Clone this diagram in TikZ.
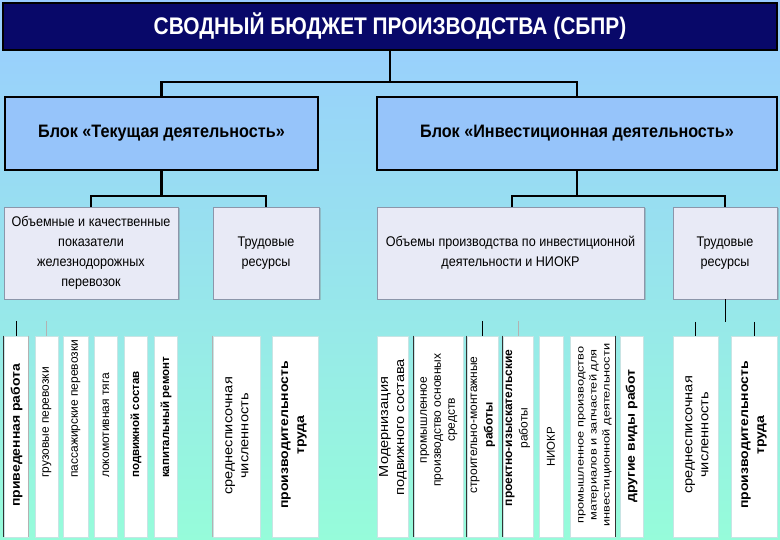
\documentclass[tikz,border=0pt]{standalone}
\usepackage{fontspec}
\setmainfont{Liberation Sans}
\newfontfamily\tfont[FakeStretch=0.87]{Liberation Sans}
\newfontfamily\hfont[FakeStretch=0.9]{Liberation Sans}
\newfontfamily\vfont[FakeStretch=1.12]{Liberation Sans}
\newfontfamily\sfont[FakeStretch=1.28]{Liberation Sans}
\usetikzlibrary{shadows}
\definecolor{bgtop}{RGB}{153,204,255}
\definecolor{bgmid}{RGB}{158,230,238}
\definecolor{bgbot}{RGB}{150,252,218}
\definecolor{navy}{RGB}{8,8,105}
\definecolor{blockfill}{RGB}{150,196,250}
\definecolor{subfill}{RGB}{232,234,246}
\definecolor{subedge}{RGB}{140,150,170}
\definecolor{leafedge}{RGB}{200,228,228}
\tikzset{
  titlebox/.style={draw=black, line width=2pt, fill=navy, text=white, inner sep=0pt,
    font=\tfont\bfseries\fontsize{24}{28}\selectfont},
  blockbox/.style={draw=black, line width=2.5pt, fill=blockfill, inner sep=0pt,
    font=\hfont\bfseries\fontsize{18}{22}\selectfont},
  subbox/.style={draw=subedge, line width=0.6pt, fill=subfill, inner sep=0pt, align=center,
    drop shadow={shadow xshift=1.5pt, shadow yshift=-1.5pt, opacity=0.35},
    font=\hfont\fontsize{14}{20}\selectfont},
  leafbox/.style={draw=leafedge, line width=0.8pt, fill=white, inner sep=0pt,
    minimum height=201pt},
  leaftext/.style={rotate=90, align=center, inner sep=0pt, text=black,
    font=\vfont\fontsize{13}{16}\selectfont},
  lefttext/.style={rotate=90, anchor=west, inner sep=0pt, text=black,
    font=\fontsize{12}{15}\selectfont},
  conn/.style={draw=black, line width=2.2pt},
  stub/.style={draw=black, line width=0.8pt},
  faintstub/.style={draw=gray!60, line width=0.8pt},
  edgeline/.style={draw=black!80, line width=0.9pt},
  faintedge/.style={draw=gray!60, line width=0.8pt}
}
\begin{document}
\begin{tikzpicture}[x=1pt,y=-1pt]
\useasboundingbox (0,0) rectangle (780,540);
\shade[top color=bgtop, middle color=bgmid, bottom color=bgbot] (0,0) rectangle (780,540);

% level 1
\node[titlebox, minimum width=774pt, minimum height=47pt] (title) at (390,26.5)
  {СВОДНЫЙ БЮДЖЕТ ПРОИЗВОДСТВА (СБПР)};

% level 2
\node[blockbox, minimum width=313pt, minimum height=73pt] (bl) at (161.5,133.5)
  {Блок «Текущая деятельность»};
\node[blockbox, minimum width=400pt, minimum height=73pt] (br) at (577,133.5)
  {Блок «Инвестиционная деятельность»};

\coordinate (j1) at (390,82);
\draw[conn] (title.south) -- (j1);
\draw[conn] (bl.north) |- (j1) -| (br.north);

% level 3
\node[subbox, minimum width=174pt, minimum height=92pt] (obj) at (91,253)
  {Объемные и качественные\\показатели\\железнодорожных\\перевозок};
\node[subbox, minimum width=106pt, minimum height=92pt] (tr1) at (266,253)
  {Трудовые\\ресурсы};
\node[subbox, minimum width=267pt, minimum height=92pt] (inv) at (510.5,253)
  {Объемы производства по инвестиционной\\деятельности и НИОКР};
\node[subbox, minimum width=104pt, minimum height=92pt] (tr2) at (725,253)
  {Трудовые\\ресурсы};

\coordinate (j2) at (161.5,196);
\coordinate (j3) at (577,196);
\draw[conn] (bl.south) -- (j2);
\draw[conn] (obj.north) |- (j2) -| (tr1.north);
\draw[conn] (br.south) -- (j3);
\draw[conn] (inv.north -| 512,0) |- (j3) -| (tr2.north);

% level 4 boxes
\foreach \n/\cx/\w in {l1/16/24, l2/46.5/23, l3/75.5/25, l4/105.5/23, l5/135.5/23, l6/165.5/23,
  l7/236.5/47, l8/295/46, l9/392.5/31, l10/438.5/49, l11/482.5/31, l12/518/30, l13/551/24,
  l14/592.5/45, l15/631.5/23, l16/695.5/45, l17/754/46}
  \node[leafbox, minimum width=\w pt] (\n) at (\cx,436.5) {};

% texts
\node[lefttext, font=\vfont\bfseries\fontsize{12.5}{15}\selectfont] (t1) at (16.5,507) {приведенная работа};
\node[lefttext] (t2) at (47,478) {грузовые перевозки};
\node[lefttext] (t3) at (76,478) {пассажирские перевозки};
\node[lefttext] (t4) at (106,478) {локомотивная тяга};
\node[lefttext, font=\bfseries\fontsize{11.5}{15}\selectfont] (t5) at (136,478) {подвижной состав};
\node[lefttext, font=\bfseries\fontsize{11.5}{15}\selectfont] (t6) at (166,478) {капитальный ремонт};
\node[leaftext] (t7) at (237,436) {среднесписочная\\численность};
\node[leaftext, font=\vfont\bfseries\fontsize{12.5}{16}\selectfont] (t8) at (294,435) {производительность\\труда};
\node[leaftext] (t9) at (393,427) {Модернизация\\подвижного состава};
\node[leaftext, font=\fontsize{12}{14}\selectfont] (t10) at (439,420) {промышленное\\производство основных\\средств};
\node[leaftext, font=\fontsize{12}{15.5}\selectfont] (t11) at (483,425) {строительно-монтажные\\\textbf{работы}};
\node[leaftext, font=\fontsize{12}{15.5}\selectfont] (t12) at (518,428) {\textbf{проектно-изыскательские}\\работы};
\node[leaftext, font=\fontsize{11.5}{14}\selectfont] (t13) at (551,447) {НИОКР};
\node[leaftext, font=\sfont\fontsize{10}{13}\selectfont] (t14) at (595,435)
  {промышленное производство\\материалов и запчастей для\\инвестиционной деятельности};
\node[leaftext, font=\vfont\bfseries\fontsize{12.5}{16}\selectfont] (t15) at (631.5,436) {другие виды работ};
\node[leaftext] (t16) at (697,435) {среднесписочная\\численность};
\node[leaftext, font=\vfont\bfseries\fontsize{12.5}{16}\selectfont] (t17) at (754,435) {производительность\\труда};

% edge lines on some leaf boxes
\draw[edgeline] (l1.north west) -- (l1.south west);
\draw[faintedge] (l1.north east) -- (l1.south east);
\draw[faintedge] (l7.north west) -- (l7.south west);
\draw[edgeline] (l10.north west) -- (l10.south west);
\draw[edgeline] (l11.north west) -- (l11.south west);
\draw[edgeline] (l12.north west) -- (l12.south west);
\draw[edgeline] (l14.north east) -- (l14.south east);

% stubs above leaves
\coordinate (s1) at (16,321);
\coordinate (s2) at (46.5,321);
\coordinate (s11) at (482.5,321);
\coordinate (s12) at (518,321);
\coordinate (s16) at (695.5,322);
\coordinate (s17) at (754,322);
\coordinate (tj) at (725,322);
\draw[stub] (s1) -- (l1.north);
\draw[faintstub] (s2) -- (l2.north);
\draw[stub] (s11) -- (l11.north);
\draw[faintstub] (s12) -- (l12.north);
\draw[stub] (tr2.south) -- (tj);
\draw[stub] (s16) -- (l16.north);
\draw[stub] (s17) -- (l17.north);
\end{tikzpicture}
\end{document}
